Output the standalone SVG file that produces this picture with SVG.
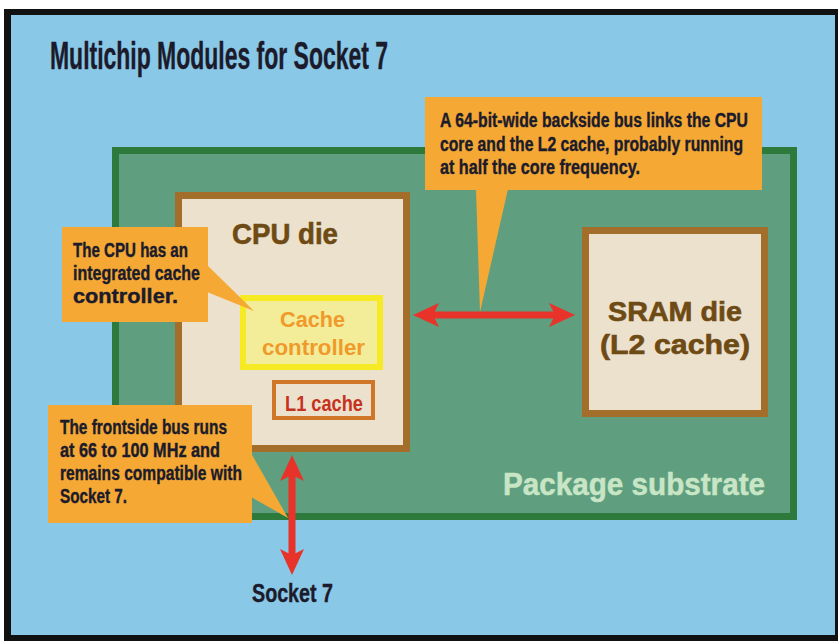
<svg xmlns="http://www.w3.org/2000/svg" width="838" height="642" viewBox="0 0 838 642">
<style>
.t{font-family:"Liberation Sans",Arial,sans-serif;font-weight:bold}
.dark{fill:#1c1b2b;stroke:#1c1b2b;stroke-width:0.4}
.brown{fill:#6e4a14;stroke:#6e4a14;stroke-width:0.6}
.call{fill:#f5a934}
.ctext{font-size:19.5px}
.die{fill:#ece1cd;stroke:#a36d2a;stroke-width:7}
.arrow{stroke:#e8332a;stroke-width:7;fill:none;marker-start:url(#ah);marker-end:url(#ah)}
</style>
<defs>
<marker id="ah" markerUnits="userSpaceOnUse" viewBox="0 -13 28 26" markerWidth="28" markerHeight="26" refX="6" refY="0" orient="auto-start-reverse">
<path d="M0,-12 L26,0 L0,12 L6,0 Z" fill="#e8332a"/>
</marker>
</defs>
<rect x="0" y="0" width="838" height="642" fill="#ffffff"/>
<rect x="4" y="9" width="834" height="632" fill="#111111"/>
<rect x="11" y="15" width="824" height="620" fill="#8ac8e8"/>
<text class="t dark" x="50" y="69" font-size="38" textLength="338" lengthAdjust="spacingAndGlyphs">Multichip Modules for Socket 7</text>
<g id="substrate">
<rect x="115.5" y="150.5" width="678" height="366" fill="#5f9e7e" stroke="#2d7a3c" stroke-width="7"/>
<text class="t" x="503" y="495" font-size="32" fill="#c8e6c6" stroke="#c8e6c6" stroke-width="0.5" textLength="262" lengthAdjust="spacingAndGlyphs">Package substrate</text>
</g>
<g id="cpu-die">
<rect class="die" x="178.5" y="195.5" width="228" height="253"/>
<text class="t brown" x="232" y="244" font-size="30" textLength="106" lengthAdjust="spacingAndGlyphs">CPU die</text>
</g>
<g id="cache-controller">
<rect x="243" y="298" width="137" height="69" fill="#f3ec98" stroke="#f6ea24" stroke-width="6"/>
<text class="t" x="280" y="327" font-size="22" fill="#f09a2c" textLength="65" lengthAdjust="spacingAndGlyphs">Cache</text>
<text class="t" x="262" y="355" font-size="22" fill="#f09a2c" textLength="103" lengthAdjust="spacingAndGlyphs">controller</text>
</g>
<g id="l1-cache">
<rect x="274" y="382" width="99" height="36" fill="#ece1cd" stroke="#cf7628" stroke-width="4"/>
<text class="t" x="285" y="411" font-size="22" fill="#c63220" textLength="78" lengthAdjust="spacingAndGlyphs">L1 cache</text>
</g>
<g id="sram-die">
<rect class="die" x="585.5" y="230.5" width="179" height="183"/>
<text class="t brown" x="608" y="321" font-size="27.5" textLength="134" lengthAdjust="spacingAndGlyphs">SRAM die</text>
<text class="t brown" x="600" y="354" font-size="27.5" textLength="150" lengthAdjust="spacingAndGlyphs">(L2 cache)</text>
</g>
<g id="connectors">
<line class="arrow" x1="433" y1="315" x2="555" y2="315"/>
<line class="arrow" x1="292" y1="475" x2="292" y2="555"/>
</g>
<g id="callout-backside">
<rect class="call" x="425" y="97" width="337" height="93"/>
<polygon class="call" points="476,189 508,189 480,312"/>
<text class="t dark ctext" x="440" y="127" textLength="308" lengthAdjust="spacingAndGlyphs">A 64-bit-wide backside bus links the CPU</text>
<text class="t dark ctext" x="440" y="151" textLength="303" lengthAdjust="spacingAndGlyphs">core and the L2 cache, probably running</text>
<text class="t dark ctext" x="440" y="174" textLength="200" lengthAdjust="spacingAndGlyphs">at half the core frequency.</text>
</g>
<g id="callout-cache">
<rect class="call" x="62" y="227" width="146" height="95"/>
<polygon class="call" points="204,262 207,292 254,311"/>
<text class="t dark ctext" x="73" y="257" textLength="115" lengthAdjust="spacingAndGlyphs">The CPU has an</text>
<text class="t dark ctext" x="73" y="280" textLength="127" lengthAdjust="spacingAndGlyphs">integrated cache</text>
<text class="t dark ctext" x="73" y="303" textLength="105" lengthAdjust="spacingAndGlyphs">controller.</text>
</g>
<g id="callout-frontside">
<rect class="call" x="48" y="405" width="204" height="118"/>
<polygon class="call" points="251,453 251,497 288,518"/>
<text class="t dark ctext" x="60" y="434" textLength="167" lengthAdjust="spacingAndGlyphs">The frontside bus runs</text>
<text class="t dark ctext" x="60" y="457" textLength="160" lengthAdjust="spacingAndGlyphs">at 66 to 100 MHz and</text>
<text class="t dark ctext" x="60" y="480" textLength="182" lengthAdjust="spacingAndGlyphs">remains compatible with</text>
<text class="t dark ctext" x="60" y="503" textLength="67" lengthAdjust="spacingAndGlyphs">Socket 7.</text>
</g>
<g id="socket7">
<text class="t dark" x="252" y="602" font-size="25" textLength="81" lengthAdjust="spacingAndGlyphs">Socket 7</text>
</g>
</svg>
